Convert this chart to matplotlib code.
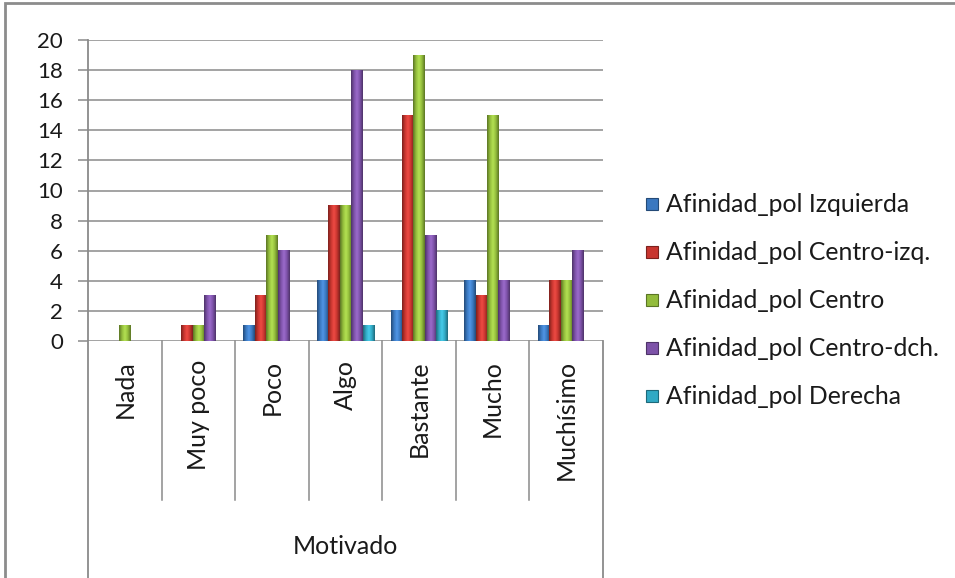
import numpy as np
import matplotlib
matplotlib.use('Agg')
import matplotlib.pyplot as plt
from matplotlib.colors import LinearSegmentedColormap, to_rgb
from matplotlib.patches import Rectangle
from matplotlib.lines import Line2D

plt.rcParams['font.family'] = ['Lato', 'DejaVu Sans']

categories = ['Nada', 'Muy poco', 'Poco', 'Algo', 'Bastante', 'Mucho', 'Muchísimo']
series_names = ['Afinidad_pol Izquierda', 'Afinidad_pol Centro-izq.', 'Afinidad_pol Centro',
                'Afinidad_pol Centro-dch.', 'Afinidad_pol Derecha']
izquierda   = [0, 0, 1, 4, 2, 4, 1]
centro_izq  = [0, 1, 3, 9, 15, 3, 4]
centro      = [1, 1, 7, 9, 19, 15, 4]
centro_dch  = [0, 3, 6, 18, 7, 4, 6]
derecha     = [0, 0, 0, 1, 2, 0, 0]
series_vals = [izquierda, centro_izq, centro, centro_dch, derecha]
colors = ['#3a78c0', '#c8352f', '#93bc3c', '#7d52a8', '#31a9c4']
axis_title = 'Motivado'

W, H = 955, 578
fig = plt.figure(figsize=(W / 100, H / 100), dpi=100)
fig.patch.set_facecolor('white')

# plot area in pixels
px_l, px_r, px_t, px_b = 88, 603, 40, 341
ax = fig.add_axes([px_l / W, 1 - px_b / H, (px_r - px_l) / W, (px_b - px_t) / H])
ax.set_yticks(np.arange(0, 21, 2))
ax.yaxis.grid(True, color='#8a8a8a', linewidth=1.1)
ax.set_axisbelow(True)
for s in ['top', 'right', 'bottom', 'left']:
    ax.spines[s].set_visible(False)
ax.set_xticks([])
ax.tick_params(axis='y', length=7, width=1.1, color='#8a8a8a', pad=11, labelsize=16, labelcolor='#1a1a1a')


def bar_cmap(c):
    r, g, b = to_rgb(c)
    dark = (r * 0.62, g * 0.62, b * 0.62)
    light = tuple(min(1, v * 1.12 + 0.06) for v in (r, g, b))
    return LinearSegmentedColormap.from_list('b', [dark, (r, g, b), light, (r, g, b), dark])


# each bar is a horizontal shading strip spanning 0..value
grad = np.linspace(0, 1, 64).reshape(1, -1)
bw = 0.155
for i, (vals, col) in enumerate(zip(series_vals, colors)):
    cm = bar_cmap(col)
    for j, v in enumerate(vals):
        if v <= 0:
            continue
        x0 = j + 0.5 + (i - 2.5) * bw
        ax.imshow(grad, extent=[x0, x0 + bw, 0, v], aspect='auto', cmap=cm, zorder=3,
                  interpolation='bilinear')
ax.set_xlim(0, len(categories))
ax.set_ylim(0, 20)

# axis line and category separators below the plot
cat_w = (px_r - px_l) / len(categories)
lc = '#8a8a8a'
fig.add_artist(Line2D([px_l / W, px_l / W], [1 - px_t / H, 0], color=lc, lw=1.3))
fig.add_artist(Line2D([px_r / W, px_r / W], [1 - px_b / H, 0], color=lc, lw=1.3))
for k in range(1, len(categories)):
    x = (px_l + k * cat_w) / W
    fig.add_artist(Line2D([x, x], [1 - px_b / H, 1 - 500 / H], color=lc, lw=1.1))

for k, name in enumerate(categories):
    x = (px_l + (k + 0.5) * cat_w) / W
    fig.text(x, 1 - 360 / H, name, rotation=90, ha='center', va='top', fontsize=18, color='#1a1a1a')

fig.text((px_l + px_r) / 2 / W, 1 - 547 / H, axis_title, ha='center', va='center', fontsize=18, color='#1a1a1a')

# legend
ly0, lstep = 204, 48
for i, (name, col) in enumerate(zip(series_names, colors)):
    y = ly0 + i * lstep
    fig.add_artist(Rectangle((646 / W, 1 - (y + 6) / H), 12 / W, 12 / H, transform=fig.transFigure,
                             facecolor=col, edgecolor=bar_cmap(col)(0.0), lw=0.8))
    fig.text(666 / W, 1 - y / H, name, ha='left', va='center', fontsize=17.8, color='#1a1a1a')

# chart frame
fig.add_artist(Rectangle((5 / W, -0.1), 1.2, 1 - 3 / H + 0.1, transform=fig.transFigure,
                         fill=False, edgecolor='#8c8c8c', lw=2))

fig.savefig('out.png', dpi=100)
